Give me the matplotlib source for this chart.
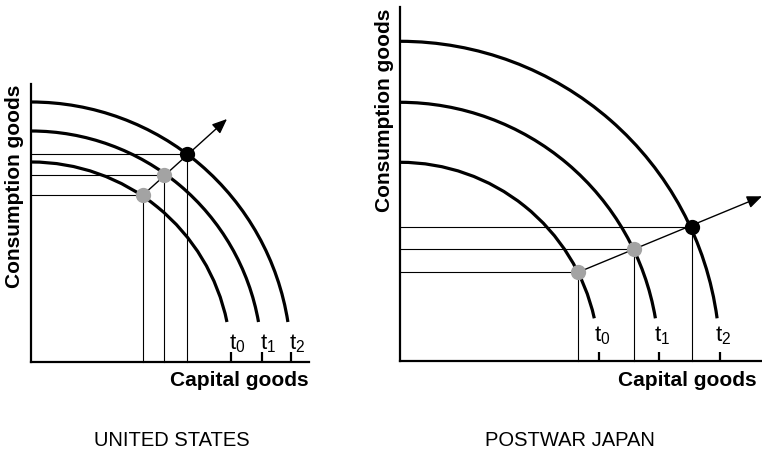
import numpy as np
import matplotlib.pyplot as plt
from matplotlib.patches import Arc

plt.rcParams['font.family'] = ['Liberation Sans', 'DejaVu Sans']
plt.rcParams['mathtext.fontset'] = 'custom'
plt.rcParams['mathtext.rm'] = 'Liberation Sans'
plt.rcParams['mathtext.it'] = 'Liberation Sans:italic'
plt.rcParams['mathtext.bf'] = 'Liberation Sans:bold'

# data (arbitrary units, origin at the axes corner)
periods = ['t_0', 't_1', 't_2']

us_radius = [200, 231, 260]
us_end_height = 40
us_cap = [112, 133, 156]
us_cons = [167, 187, 208]
us_arrow_tip = (196, 243)
us_xmax, us_ymax = 278, 278

jp_radius = [199, 259, 320]
jp_end_height = 43
jp_cap = [178, 234, 292]
jp_cons = [89, 112, 134]
jp_arrow_tip = (362, 165)
jp_xmax, jp_ymax = 362, 354

W, H = 762, 453
fig = plt.figure(figsize=(W / 100, H / 100), dpi=100)


def draw_panel(ax, radius, end_h, cap, cons, tip, xmax, ymax, lab_y, lab_dx, tick_h):
    ax.set_xlim(0, xmax)
    ax.set_ylim(0, ymax)
    ax.set_xticks([])
    ax.set_yticks([])
    for s in ['top', 'right']:
        ax.spines[s].set_visible(False)
    for s in ['left', 'bottom']:
        ax.spines[s].set_linewidth(1.6)
    ax.patch.set_alpha(0)

    # guide lines
    for x, y in zip(cap, cons):
        ax.plot([0, x], [y, y], color='black', lw=0.8, zorder=2, clip_on=False)
        ax.plot([x, x], [0, y], color='black', lw=0.8, zorder=2, clip_on=False)

    # production possibility curves
    for r, lab in zip(radius, periods):
        theta1 = np.degrees(np.arcsin(end_h / r))
        ax.add_patch(Arc((0, 0), 2 * r, 2 * r, theta1=theta1, theta2=90,
                         lw=2.3, color='black', zorder=3, clip_on=False))
        ax.plot([r, r], [0, tick_h], color='black', lw=1.6, zorder=3,
                clip_on=False, solid_capstyle='butt')
        ax.text(r + lab_dx, lab_y, r'$\mathregular{%s}$' % lab, fontsize=16,
                ha='left', va='center')

    # growth path arrow
    ax.annotate('', xy=tip, xytext=(cap[0], cons[0]), annotation_clip=False,
                arrowprops=dict(arrowstyle='-|>,head_length=0.6,head_width=0.25',
                                lw=1, color='black', mutation_scale=15,
                                shrinkA=0, shrinkB=0), zorder=4)

    # points
    ax.plot(cap[:2], cons[:2], 'o', color='#a3a3a3', ms=11, mec='none',
            zorder=5, clip_on=False)
    ax.plot(cap[2], cons[2], 'o', color='black', ms=11, mec='none',
            zorder=5, clip_on=False)

    ax.text(xmax, -19, 'Capital goods', fontsize=15, fontweight='bold',
            ha='right', va='center', clip_on=False)
    ax.text(-16, ymax - 1, 'Consumption goods', fontsize=15, fontweight='bold',
            rotation=90, ha='center', va='top', clip_on=False)


ax1 = fig.add_axes([31 / W, (H - 362) / H, us_xmax / W, us_ymax / H])
draw_panel(ax1, us_radius, us_end_height, us_cap, us_cons, us_arrow_tip,
           us_xmax, us_ymax, 18.5, -2, 10)

ax2 = fig.add_axes([400 / W, (H - 361.3) / H, jp_xmax / W, jp_ymax / H])
draw_panel(ax2, jp_radius, jp_end_height, jp_cap, jp_cons, jp_arrow_tip,
           jp_xmax, jp_ymax, 26, -5, 9.5)
ax2.texts[-2].set_x(357)

fig.text(172 / W, 1 - 440.5 / H, 'UNITED STATES', fontsize=14.5,
         ha='center', va='center')
fig.text(570 / W, 1 - 440.5 / H, 'POSTWAR JAPAN', fontsize=14.5,
         ha='center', va='center')

plt.savefig('out.png', dpi=100)
